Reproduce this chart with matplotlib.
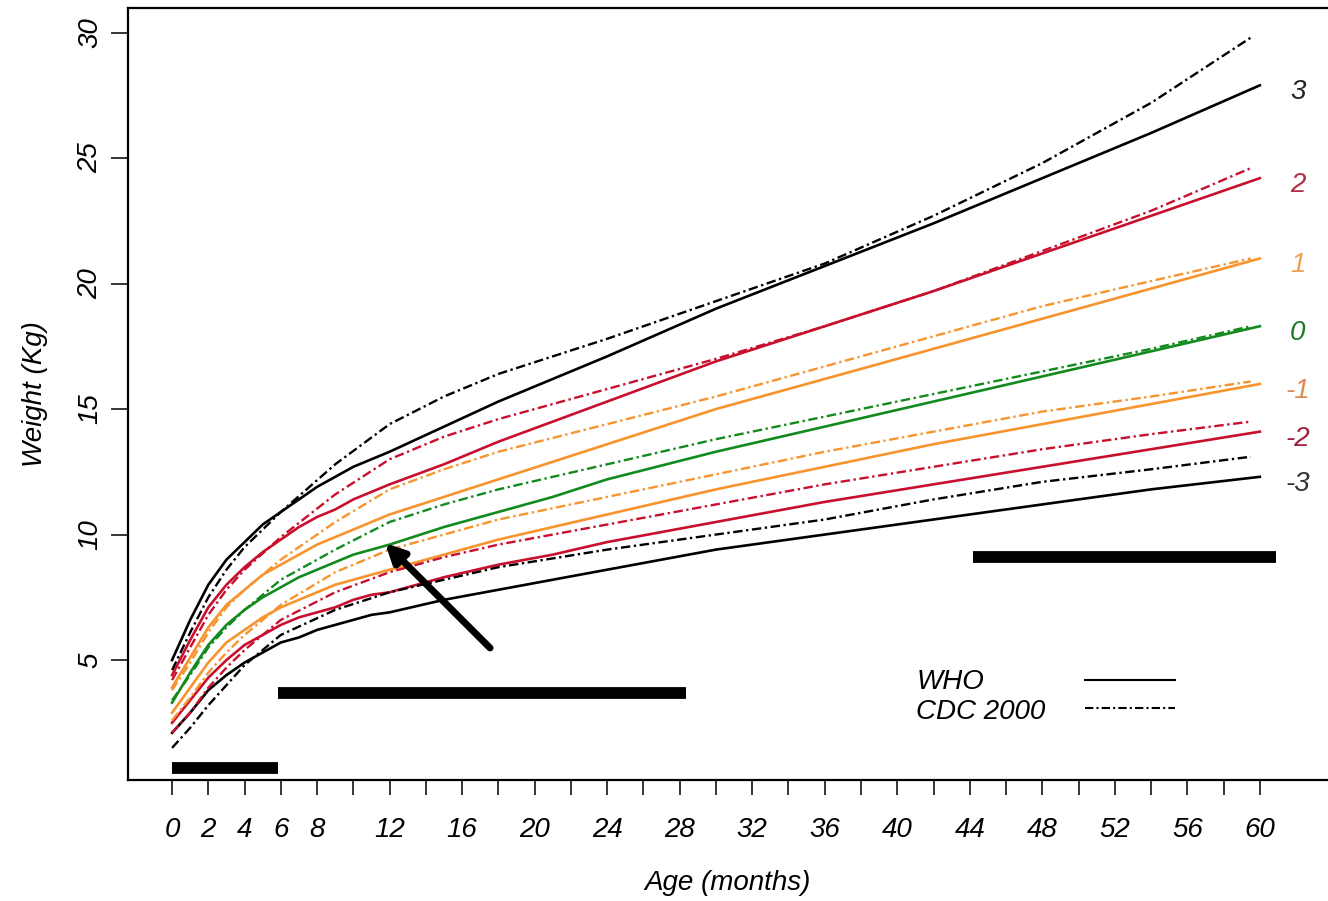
import matplotlib
matplotlib.use('Agg')
import matplotlib.pyplot as plt

plt.rcParams['font.family'] = ['Liberation Sans', 'DejaVu Sans']
plt.rcParams['font.style'] = 'italic'

# WHO weight-for-age (boys), z-score curves
who_months = [0, 1, 2, 3, 4, 5, 6, 7, 8, 9, 10, 11, 12, 15, 18, 21, 24, 30, 36, 42, 48, 54, 60]
who_p3 = [5.0, 6.6, 8.0, 9.0, 9.7, 10.4, 10.9, 11.4, 11.9, 12.3, 12.7, 13.0, 13.3, 14.3, 15.3, 16.2, 17.1, 19.0, 20.7, 22.4, 24.2, 26.0, 27.9]
who_p2 = [4.4, 5.8, 7.1, 8.0, 8.7, 9.3, 9.8, 10.3, 10.7, 11.0, 11.4, 11.7, 12.0, 12.8, 13.7, 14.5, 15.3, 16.9, 18.3, 19.7, 21.2, 22.7, 24.2]
who_p1 = [3.9, 5.1, 6.3, 7.2, 7.8, 8.4, 8.8, 9.2, 9.6, 9.9, 10.2, 10.5, 10.8, 11.5, 12.2, 12.9, 13.6, 15.0, 16.2, 17.4, 18.6, 19.8, 21.0]
who_0 = [3.3, 4.5, 5.6, 6.4, 7.0, 7.5, 7.9, 8.3, 8.6, 8.9, 9.2, 9.4, 9.6, 10.3, 10.9, 11.5, 12.2, 13.3, 14.3, 15.3, 16.3, 17.3, 18.3]
who_m1 = [2.9, 3.9, 4.9, 5.7, 6.2, 6.7, 7.1, 7.4, 7.7, 8.0, 8.2, 8.4, 8.6, 9.2, 9.8, 10.3, 10.8, 11.8, 12.7, 13.6, 14.4, 15.2, 16.0]
who_m2 = [2.5, 3.4, 4.3, 5.0, 5.6, 6.0, 6.4, 6.7, 6.9, 7.1, 7.4, 7.6, 7.7, 8.3, 8.8, 9.2, 9.7, 10.5, 11.3, 12.0, 12.7, 13.4, 14.1]
who_m3 = [2.1, 2.9, 3.8, 4.4, 4.9, 5.3, 5.7, 5.9, 6.2, 6.4, 6.6, 6.8, 6.9, 7.4, 7.8, 8.2, 8.6, 9.4, 10.0, 10.6, 11.2, 11.8, 12.3]

# CDC 2000 curves
cdc_months = [0, 1, 2, 3, 4, 6, 9, 12, 15, 18, 24, 30, 36, 42, 48, 54, 59.5]
cdc_p3 = [4.6, 6.1, 7.5, 8.6, 9.5, 10.9, 12.8, 14.4, 15.5, 16.4, 17.8, 19.3, 20.8, 22.7, 24.8, 27.2, 29.8]
cdc_p2 = [4.2, 5.5, 6.8, 7.8, 8.6, 9.9, 11.6, 13.0, 13.9, 14.6, 15.8, 17.0, 18.3, 19.7, 21.3, 22.9, 24.6]
cdc_p1 = [3.8, 4.9, 6.1, 7.1, 7.8, 9.0, 10.5, 11.8, 12.6, 13.3, 14.4, 15.5, 16.7, 17.9, 19.1, 20.1, 21.0]
cdc_0 = [3.4, 4.4, 5.5, 6.3, 7.0, 8.2, 9.4, 10.5, 11.2, 11.8, 12.8, 13.8, 14.7, 15.6, 16.5, 17.4, 18.3]
cdc_m1 = [2.6, 3.5, 4.5, 5.3, 6.0, 7.2, 8.5, 9.4, 10.0, 10.6, 11.5, 12.4, 13.3, 14.1, 14.9, 15.5, 16.1]
cdc_m2 = [2.1, 2.9, 3.9, 4.7, 5.4, 6.6, 7.7, 8.5, 9.1, 9.6, 10.4, 11.2, 12.0, 12.7, 13.4, 14.0, 14.5]
cdc_m3 = [1.5, 2.3, 3.2, 4.0, 4.8, 6.0, 7.0, 7.7, 8.2, 8.7, 9.4, 10.0, 10.6, 11.4, 12.1, 12.6, 13.1]

z_labels = ['3', '2', '1', '0', '-1', '-2', '-3']
black = 'black'
red = '#c8102e'
orange = '#f7942d'
green = '#138a1e'
colors = [black, red, orange, green, orange, red, black]
label_colors = ['#222222', '#b0304a', '#f0a050', '#1d7a2a', '#e08a50', '#a02040', '#333333']

who_curves = [who_p3, who_p2, who_p1, who_0, who_m1, who_m2, who_m3]
cdc_curves = [cdc_p3, cdc_p2, cdc_p1, cdc_0, cdc_m1, cdc_m2, cdc_m3]

# black bars marking age ranges and the arrow
bar_x0 = [0, 5.85, 44.2]
bar_x1 = [5.85, 28.35, 60.9]
bar_y = [0.7, 3.68, 9.1]
arrow_from = (17.54, 5.48)
arrow_to = (11.75, 9.66)

dashdot = (0, (4, 1.5, 1, 1.5))

fig = plt.figure(figsize=(13.28, 9.01), dpi=100)
ax = fig.add_axes([0.0964, 0.1343, 0.9036, 0.8568])

for yv, col in zip(who_curves, colors):
    ax.plot(who_months, yv, color=col, lw=1.9, solid_joinstyle='round')
for yv, col in zip(cdc_curves, colors):
    ax.plot(cdc_months, yv, color=col, lw=1.7, linestyle=dashdot)

for lab, yv, col in zip(z_labels, who_curves, label_colors):
    ax.annotate(lab, xy=(62.1, yv[-1]), xytext=(0, -5), textcoords='offset points',
                color=col, fontsize=20, ha='center', va='center')

for x0, x1, yb in zip(bar_x0, bar_x1, bar_y):
    ax.plot([x0, x1], [yb, yb], color='black', lw=8.5, solid_capstyle='butt')

ax.annotate('', xy=arrow_to, xytext=arrow_from,
            arrowprops=dict(arrowstyle='-|>', lw=5, color='black',
                            mutation_scale=28, shrinkA=0, shrinkB=0))

# legend drawn by hand: text left, line right
ax.text(0.657, 0.127, 'WHO', transform=ax.transAxes, fontsize=20, va='center')
ax.text(0.657, 0.088, 'CDC 2000', transform=ax.transAxes, fontsize=20, va='center')
ax.plot([0.7975, 0.8725], [0.1295, 0.1295], transform=ax.transAxes, color='black', lw=1.5)
ax.plot([0.7975, 0.8725], [0.0933, 0.0933], transform=ax.transAxes, color='black', lw=1.5,
        linestyle=dashdot)

ax.set_xlim(-2.43, 63.76)
ax.set_ylim(0.22, 30.98)

xt = list(range(0, 61, 2))
xl = [str(v) if (v <= 8 or v % 4 == 0) else '' for v in xt]
ax.set_xticks(xt)
ax.set_xticklabels(xl, fontsize=20)
ax.set_yticks([5, 10, 15, 20, 25, 30])
ax.set_yticklabels(['5', '10', '15', '20', '25', '30'], fontsize=20, rotation=90, va='center')
ax.tick_params(axis='x', direction='out', length=11, width=1.1, pad=16)
ax.tick_params(axis='y', direction='out', length=12, width=1.1, pad=6)

ax.set_xlabel('Age (months)', fontsize=20, labelpad=19)
ax.set_ylabel('Weight (Kg)', fontsize=20, labelpad=21)

ax.spines['right'].set_visible(False)
for s in ['left', 'bottom', 'top']:
    ax.spines[s].set_linewidth(1.6)

fig.savefig('out.png', dpi=100)
plt.close()
